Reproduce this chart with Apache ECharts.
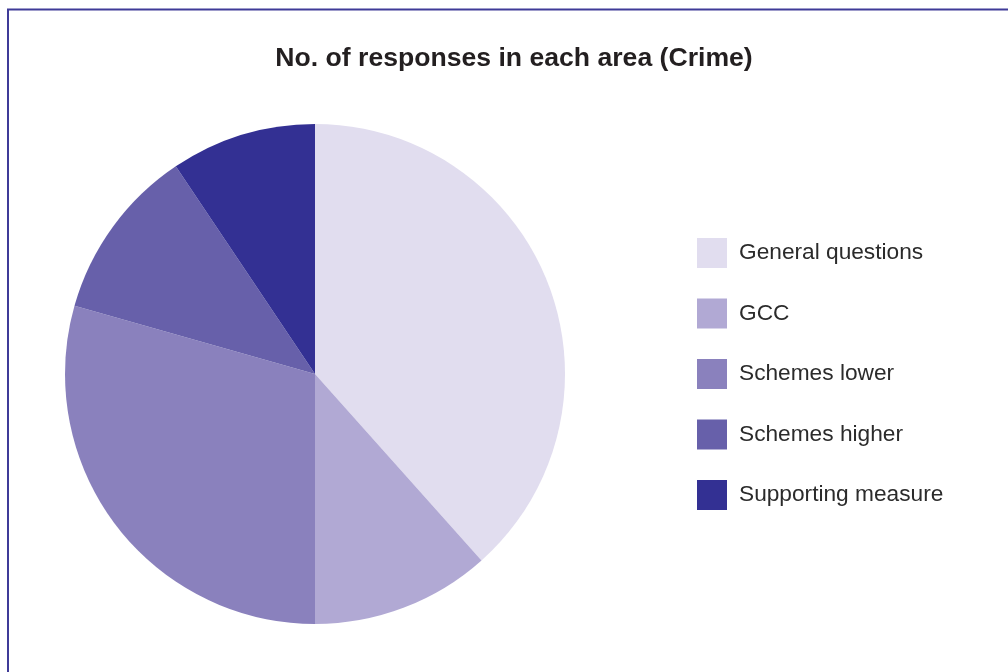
<!DOCTYPE html>
<html>
<head>
<meta charset="utf-8">
<style>
  html, body { margin: 0; padding: 0; background: #fff; }
  #chart { width: 1008px; height: 672px; }
</style>
<script src="https://cdn.jsdelivr.net/npm/echarts@6/dist/echarts.min.js"></script>
</head>
<body>
<div id="chart"></div>
<script>
// Share of responses per consultation area (Crime)
const categories = ['General questions', 'GCC', 'Schemes lower', 'Schemes higher', 'Supporting measure'];
const responses = [38.4, 11.6, 29.4, 11.2, 9.4];
const sliceColors = ['#e1ddef', '#b1a9d4', '#8a81bd', '#6760aa', '#333093'];

const chart = echarts.init(document.getElementById('chart'), null, { renderer: 'canvas' });

chart.setOption({
  animation: false,
  backgroundColor: '#ffffff',
  title: {
    text: 'No. of responses in each area (Crime)',
    left: 509,
    textAlign: 'center',
    top: 40,
    textStyle: {
      fontFamily: 'Liberation Sans, Arial, sans-serif',
      fontWeight: 'bold',
      fontSize: 26.6,
      color: '#231f20'
    }
  },
  legend: {
    orient: 'vertical',
    left: 692,
    top: 233,
    itemWidth: 30,
    itemHeight: 30,
    itemGap: 30.5,
    icon: 'rect',
    selectedMode: false,
    data: categories,
    textStyle: {
      fontFamily: 'Liberation Sans, Arial, sans-serif',
      fontSize: 22.7,
      color: '#2b2b2b',
      padding: [2, 0, 0, 7]
    }
  },
  graphic: [{
    type: 'rect',
    shape: { x: 8, y: 9.5, width: 1100, height: 800 },
    style: { fill: 'none', stroke: '#3f3b98', lineWidth: 2 },
    silent: true
  }],
  series: [{
    type: 'pie',
    center: [315, 374],
    radius: 250,
    startAngle: 90,
    clockwise: true,
    label: { show: false },
    labelLine: { show: false },
    emphasis: { disabled: true },
    itemStyle: { borderWidth: 0 },
    data: categories.map((name, i) => ({
      name,
      value: responses[i],
      itemStyle: { color: sliceColors[i] }
    }))
  }]
});
</script>
</body>
</html>
